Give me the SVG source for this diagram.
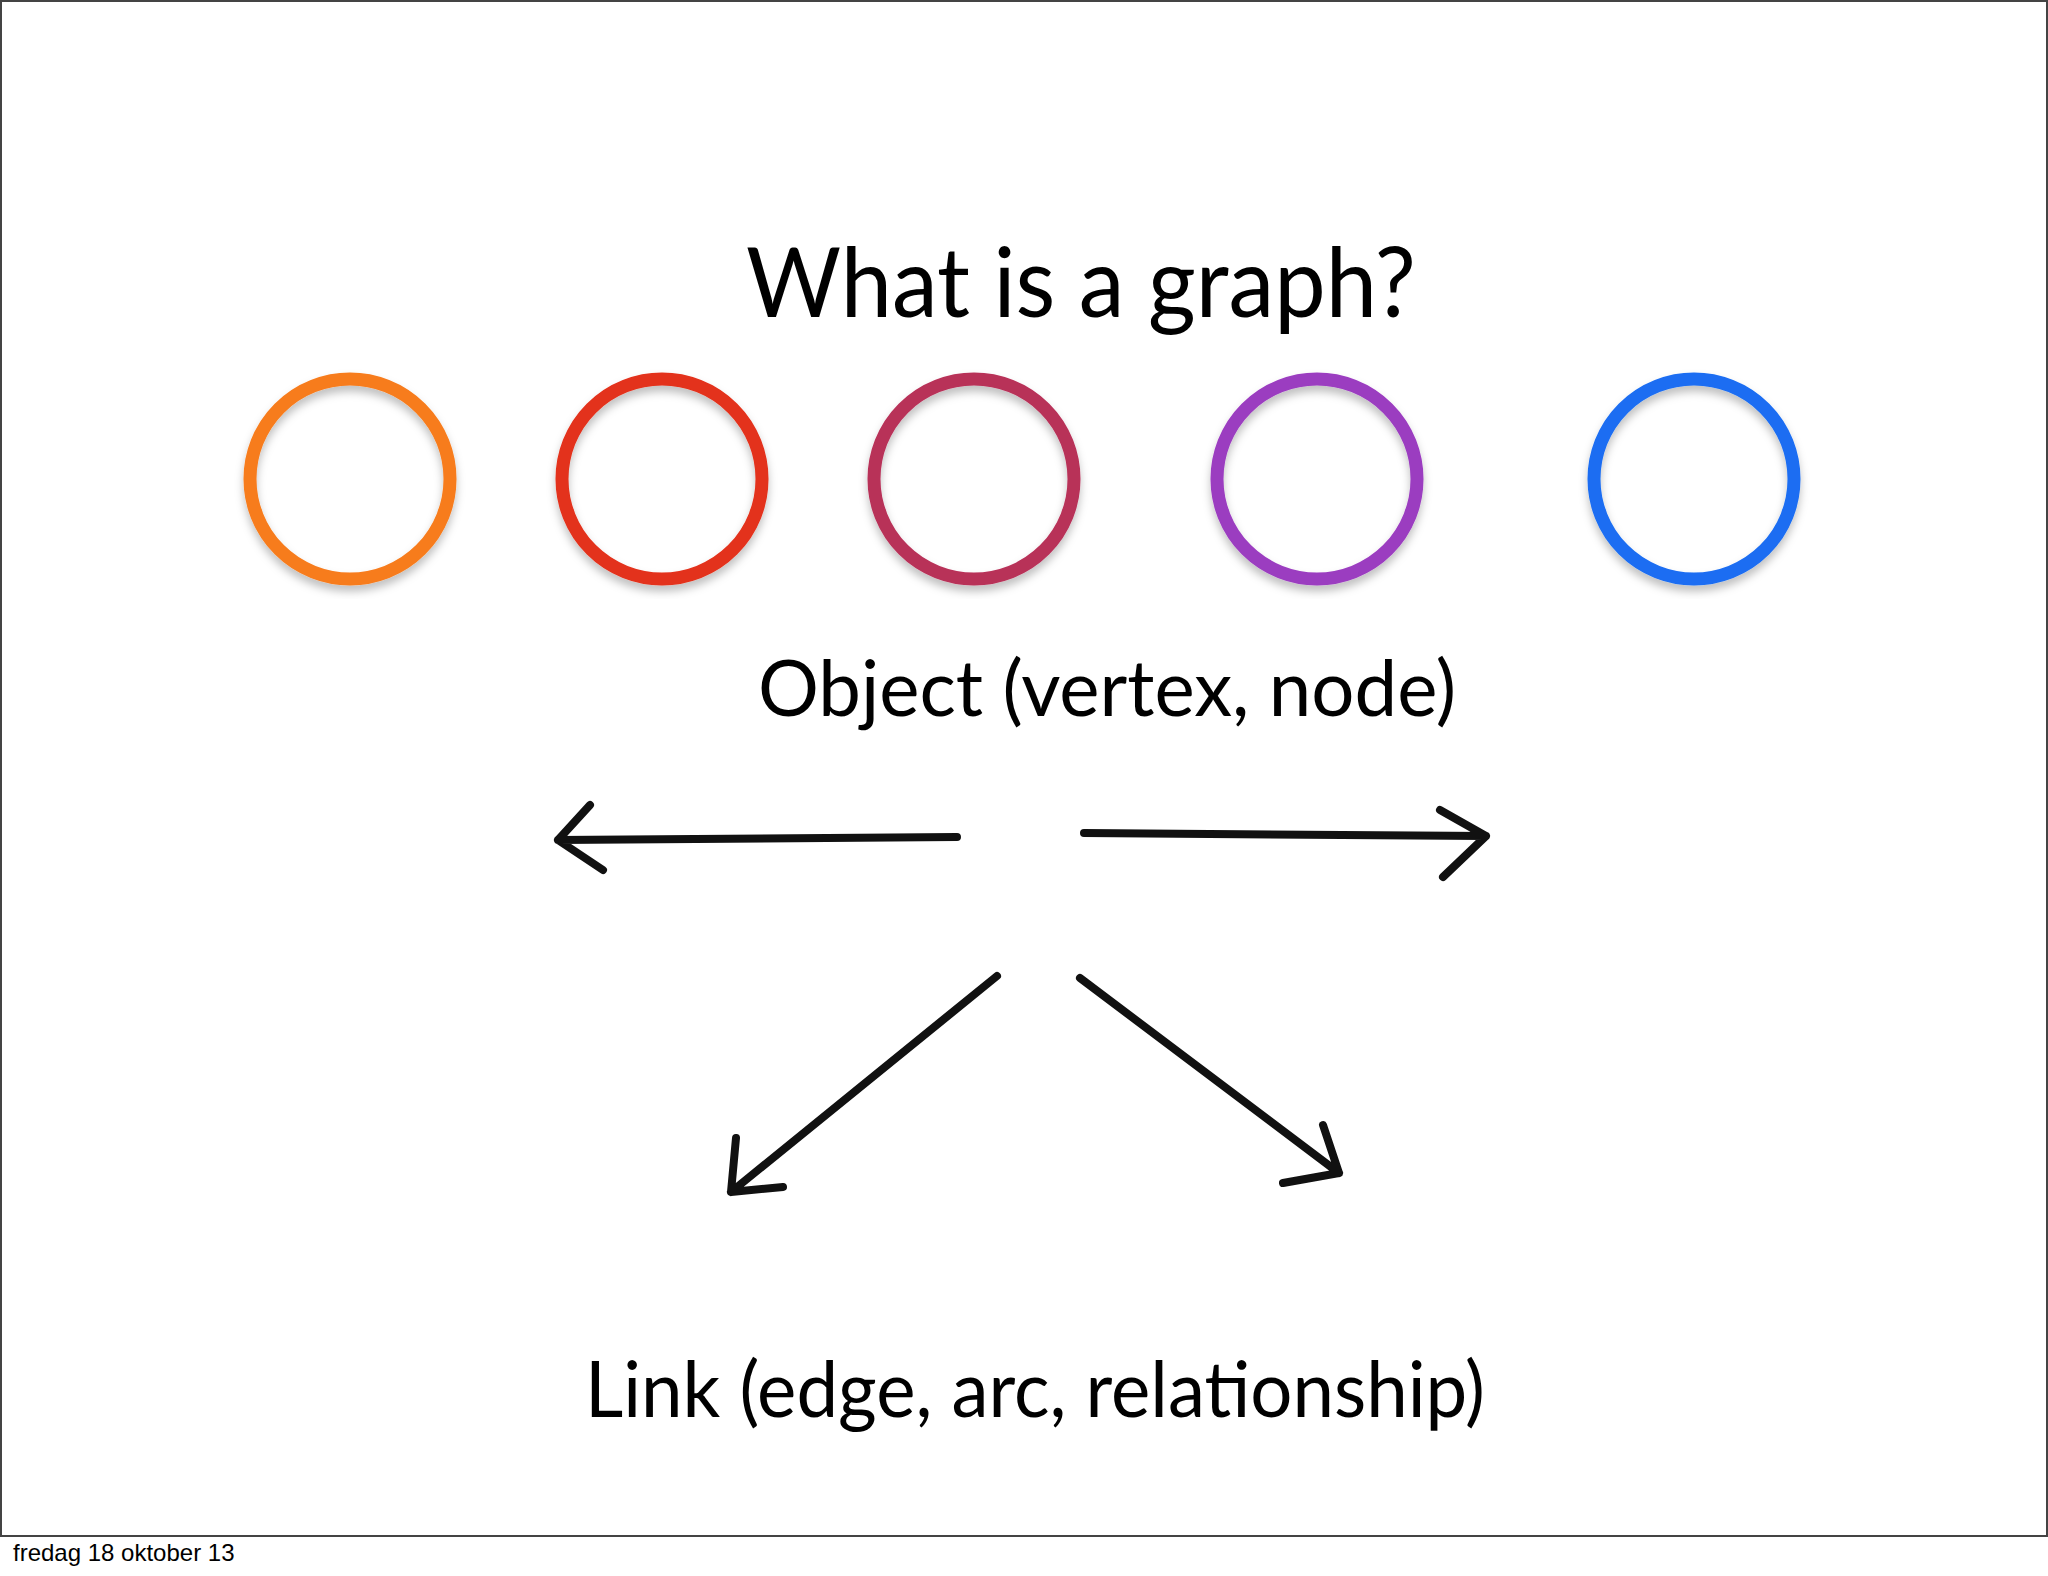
<svg xmlns="http://www.w3.org/2000/svg" width="2048" height="1576" viewBox="0 0 2048 1576">
<defs>
<style>
.t{font-family:Lato,"Liberation Sans",sans-serif;fill:#000}
.c{fill:none;stroke-width:13}
.a{fill:none;stroke:#111;stroke-width:8;stroke-linecap:round;stroke-linejoin:round}
</style>
<filter id="sh"><feDropShadow dx="0" dy="6" stdDeviation="4" flood-opacity="0.25"/></filter>
</defs>
<rect x="0" y="0" width="2048" height="1576" fill="#fff"/>
<rect x="1" y="1" width="2046" height="1535" fill="#fff" stroke="#444" stroke-width="2"/>
<text class="t" x="1081" y="317" font-size="96" text-anchor="middle" textLength="670" lengthAdjust="spacingAndGlyphs">What is a graph?</text>
<g id="n1" filter="url(#sh)"><circle class="c" cx="350" cy="479" r="100" stroke="#f77b1b"/></g>
<g id="n2" filter="url(#sh)"><circle class="c" cx="662" cy="479" r="100" stroke="#e3301a"/></g>
<g id="n3" filter="url(#sh)"><circle class="c" cx="974" cy="479" r="100" stroke="#b83058"/></g>
<g id="n4" filter="url(#sh)"><circle class="c" cx="1317" cy="479" r="100" stroke="#9b3cc0"/></g>
<g id="n5" filter="url(#sh)"><circle class="c" cx="1694" cy="479" r="100" stroke="#1a6df2"/></g>
<text class="t" x="1107" y="716" font-size="78" text-anchor="middle" textLength="698" lengthAdjust="spacingAndGlyphs">Object (vertex, node)</text>
<g id="connectors">
<path class="a" d="M957 837 L558 840 M590 805 L558 840 L603 870"/>
<path class="a" d="M1084 833 L1486 836 M1440 810 L1486 836 L1443 877"/>
<path class="a" d="M997 976 L731 1192 M736 1138 L731 1192 L783 1187"/>
<path class="a" d="M1080 978 L1339 1173 M1323 1125 L1339 1173 L1283 1183"/>
</g>
<text class="t" x="1035" y="1417" font-size="78" text-anchor="middle" textLength="900" lengthAdjust="spacingAndGlyphs">Link (edge, arc, relationship)</text>
<text x="13" y="1561" font-family="Liberation Sans,sans-serif" font-size="24">fredag 18 oktober 13</text>
</svg>
